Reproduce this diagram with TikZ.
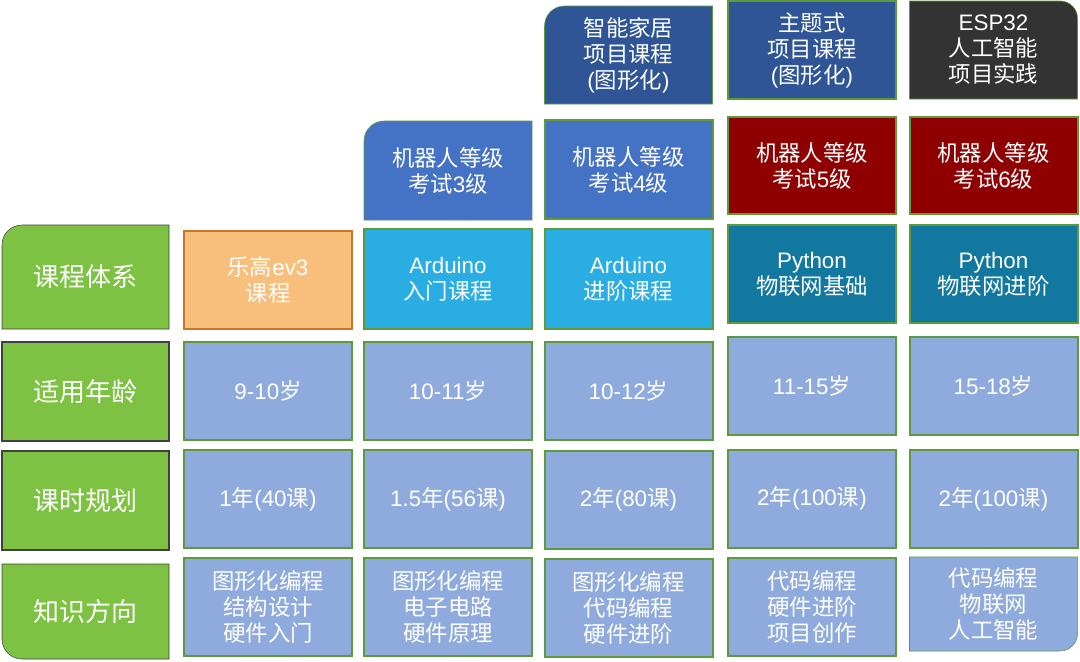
\documentclass[tikz,border=0pt]{standalone}
\usepackage{fontspec}
\newfontfamily\cjk{Noto Sans CJK SC}
\newfontfamily\lat{Liberation Sans}
\usepackage{xcolor}
\usetikzlibrary{backgrounds}
\definecolor{headgreen}{RGB}{125,194,66}
\definecolor{headline}{RGB}{64,64,64}
\definecolor{cellline}{RGB}{94,154,58}
\definecolor{legofill}{RGB}{248,190,123}
\definecolor{legoline}{RGB}{199,120,42}
\definecolor{ardfill}{RGB}{41,173,226}
\definecolor{pyfill}{RGB}{19,120,159}
\definecolor{robotfill}{RGB}{68,114,196}
\definecolor{examred}{RGB}{143,0,0}
\definecolor{projfill}{RGB}{47,85,151}
\definecolor{espfill}{RGB}{51,51,51}
\definecolor{infofill}{RGB}{143,170,220}

% Han characters in Noto, the rest in Liberation Sans
\newXeTeXintercharclass\hancls
\newcount\hancode
\hancode="4E00
\loop
  \XeTeXcharclass\hancode=\hancls
  \advance\hancode by 1
\ifnum\hancode<"A000 \repeat
\XeTeXinterchartoks 0 \hancls = {\cjk}
\XeTeXinterchartoks 4095 \hancls = {\cjk}
\XeTeXinterchartoks \hancls 0 = {\lat}

\begin{document}
\XeTeXinterchartokenstate=1
\begin{tikzpicture}[x=0.75pt,y=-0.75pt,
    cell/.style={draw=cellline, line width=1.5pt, outer sep=0pt, inner sep=0pt,
      text=white, align=center, minimum width=126pt, minimum height=73.5pt,
      font=\lat\fontsize{16.8}{19.5}\selectfont},
    info/.style={cell, fill=infofill},
    rowhead/.style={cell, draw=headline, fill=headgreen, minimum width=125.25pt,
      minimum height=74.25pt, font=\lat\fontsize{19.5}{22}\selectfont},
    bare/.style={draw=none, fill=none}]
    \useasboundingbox (0,0) rectangle (1080,661);

    % Row headings
    \node[rowhead, bare, minimum height=78pt] (sys) at (85.5,277) {课程体系};
    \node[rowhead] (age) at (85.5,391.5) {适用年龄};
    \node[rowhead] (hours) at (85.5,500.5) {课时规划};
    \node[rowhead, bare, minimum height=71.25pt] (topic) at (85.5,611.5) {知识方向};

    % Projects and exams on top
    \node[cell, bare] (home) at (628.5,55) {智能家居\\项目课程\\(图形化)};
    \node[cell, fill=projfill] (theme) at (812,50) {主题式\\项目课程\\(图形化)};
    \node[cell, bare] (esp) at (993.5,50) {ESP32\\人工智能\\项目实践};
    \node[cell, bare, minimum height=74.25pt] (exam3) at (448,170.5) {机器人等级\\考试3级};
    \node[cell, fill=robotfill, minimum height=74.25pt] (exam4) at (628.5,169.5) {机器人等级\\考试4级};
    \node[cell, fill=examred, minimum height=72.75pt] (exam5) at (812,165.5) {机器人等级\\考试5级};
    \node[cell, fill=examred, minimum height=72.75pt] (exam6) at (993.5,165.5) {机器人等级\\考试6级};

    % Courses
    \node[cell, fill=legofill, draw=legoline] (lego) at (268,280) {乐高ev3\\课程};
    \node[cell, fill=ardfill, minimum height=75pt] (ardA) at (448,279) {Arduino\\入门课程};
    \node[cell, fill=ardfill, minimum height=75pt] (ardB) at (628.5,279) {Arduino\\进阶课程};
    \node[cell, fill=pyfill] (pyA) at (812,274) {Python\\物联网基础};
    \node[cell, fill=pyfill] (pyB) at (993.5,274) {Python\\物联网进阶};

    % Ages
    \node[info] (age1) at (268,391) {9-10岁};
    \node[info] (age2) at (448,391) {10-11岁};
    \node[info] (age3) at (628.5,390.5) {10-12岁};
    \node[info] (age4) at (812,386) {11-15岁};
    \node[info] (age5) at (993.5,386) {15-18岁};

    % Lesson plans
    \node[info] (hr1) at (268,499) {1年(40课)};
    \node[info] (hr2) at (448,499) {1.5年(56课)};
    \node[info] (hr3) at (628.5,499.5) {2年(80课)};
    \node[info] (hr4) at (812,498.5) {2年(100课)};
    \node[info] (hr5) at (993.5,499) {2年(100课)};

    % Knowledge
    \node[info] (kn1) at (268,606.5) {图形化编程\\结构设计\\硬件入门};
    \node[info] (kn2) at (448,607) {图形化编程\\电子电路\\硬件原理};
    \node[info] (kn3) at (628.5,608) {图形化编程\\代码编程\\硬件进阶};
    \node[info] (kn4) at (812,606.5) {代码编程\\硬件进阶\\项目创作};
    \node[info, bare, minimum height=70.5pt] (kn5) at (993.5,604) {代码编程\\物联网\\人工智能};

    % Boxes with one round corner
    \begin{scope}[on background layer, line width=1.5pt]
        \filldraw[fill=headgreen, draw=headline] (sys.west) [rounded corners=15pt] -- (sys.north west) -- (sys.north) [sharp corners] -- (sys.north east) -- (sys.south east) -- (sys.south west) -- cycle;
        \filldraw[fill=headgreen, draw=headline] (topic.south) [rounded corners=15pt] -- (topic.south west) -- (topic.west) [sharp corners] -- (topic.north west) -- (topic.north east) -- (topic.south east) -- cycle;
        \filldraw[fill=projfill, draw=cellline] (home.west) [rounded corners=15pt] -- (home.north west) -- (home.north) [sharp corners] -- (home.north east) -- (home.south east) -- (home.south west) -- cycle;
        \filldraw[fill=robotfill, draw=cellline] (exam3.west) [rounded corners=15pt] -- (exam3.north west) -- (exam3.north) [sharp corners] -- (exam3.north east) -- (exam3.south east) -- (exam3.south west) -- cycle;
        \filldraw[fill=espfill, draw=cellline] (esp.north) [rounded corners=13pt] -- (esp.north east) -- (esp.east) [sharp corners] -- (esp.south east) -- (esp.south west) -- (esp.north west) -- cycle;
        \filldraw[fill=infofill, draw=cellline] (kn5.east) [rounded corners=13pt] -- (kn5.south east) -- (kn5.south) [sharp corners] -- (kn5.south west) -- (kn5.north west) -- (kn5.north east) -- cycle;
    \end{scope}
\end{tikzpicture}
\end{document}
